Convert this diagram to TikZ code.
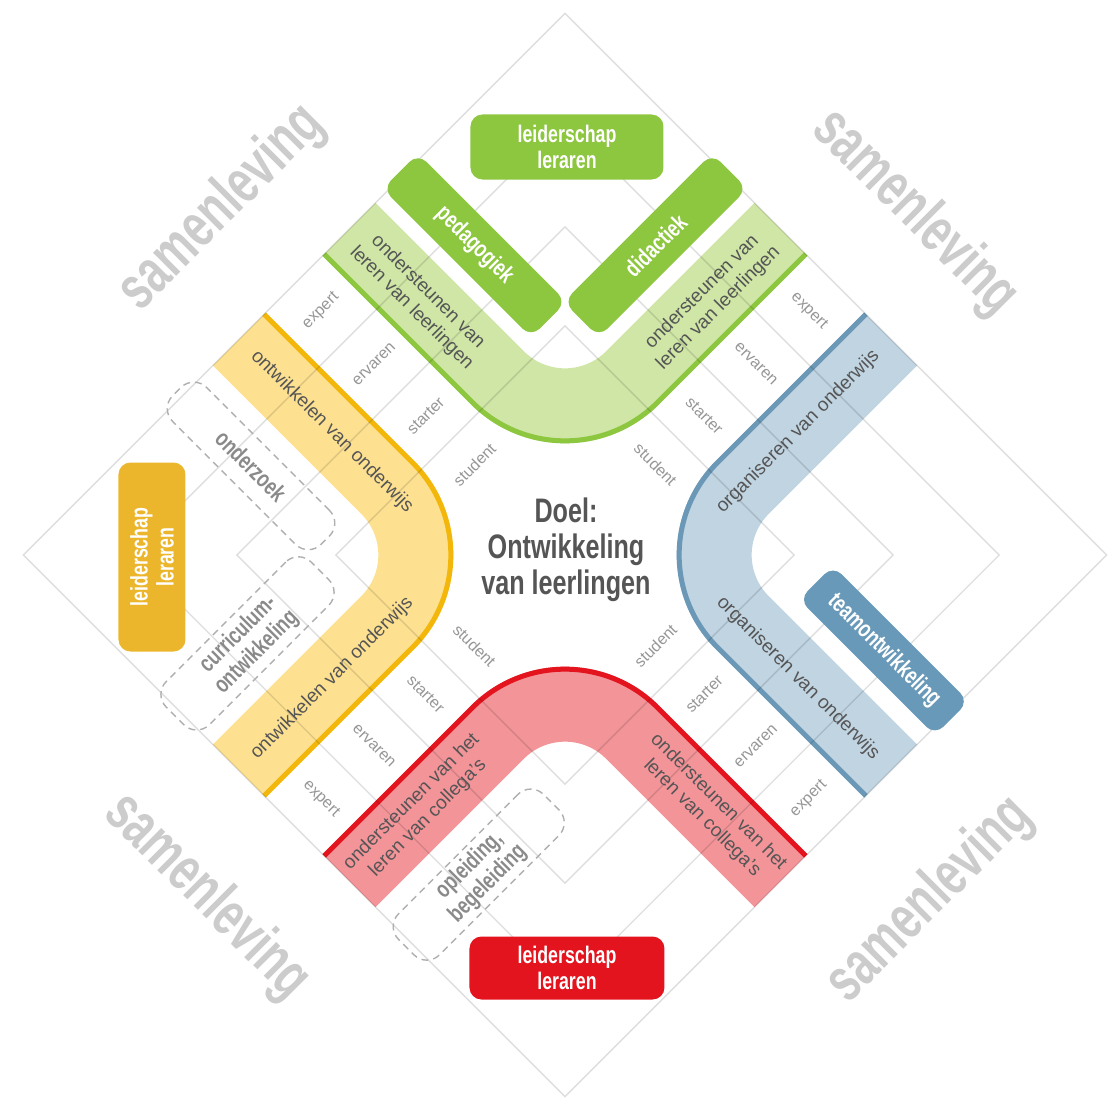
\documentclass[tikz,border=0pt]{standalone}
\usepackage{fontspec}
\setmainfont{Liberation Sans}
\newfontfamily\condfont[FakeStretch=0.74]{Liberation Sans}
\newfontfamily\socfont[FakeStretch=0.7]{Liberation Sans}
\usepackage{tikz}

\definecolor{bandG}{RGB}{207, 230, 166}
\definecolor{edgeG}{RGB}{141, 198, 63}
\definecolor{bandY}{RGB}{253, 225, 145}
\definecolor{edgeY}{RGB}{243, 183, 12}
\definecolor{bandB}{RGB}{192, 212, 226}
\definecolor{edgeB}{RGB}{106, 152, 182}
\definecolor{bandR}{RGB}{243, 148, 153}
\definecolor{edgeR}{RGB}{227, 20, 30}
\definecolor{colGreen}{RGB}{141, 198, 63}
\definecolor{colYellow}{RGB}{236, 182, 44}
\definecolor{colBlue}{RGB}{104, 153, 184}
\definecolor{colRed}{RGB}{227, 20, 30}
\definecolor{colText}{RGB}{85, 85, 85}
\definecolor{colLevel}{RGB}{150, 150, 150}
\definecolor{colDash}{RGB}{175, 175, 175}
\definecolor{colDashText}{RGB}{138, 138, 138}
\definecolor{colSociety}{RGB}{204, 204, 204}

\begin{document}
\begin{tikzpicture}[x=1pt, y=1pt,
    gridline/.style={draw=black, draw opacity=0.13, line width=1.3pt},
    bandtext/.style={text=colText, align=center, font=\fontsize{19}{23}\selectfont},
    level/.style={text=colLevel, font=\fontsize{16}{18}\selectfont},
    solidbox/.style={rounded corners=12pt, text=white, align=center, inner sep=0pt,
        font=\condfont\bfseries\fontsize{24}{26}\selectfont},
    dashbox/.style={draw=colDash, dash pattern=on 7pt off 5pt, line width=1.4pt,
        rounded corners=18pt, text=colDashText, align=center, inner sep=0pt,
        font=\condfont\bfseries\fontsize{24}{26}\selectfont},
    society/.style={text=colSociety, font=\socfont\bfseries\fontsize{62}{62}\selectfont}]

    \useasboundingbox (-565,-549) rectangle (549,555);

    % samenleving in de hoeken
    \node[society, rotate=45]  (socNW) at (-343, 347) {samenleving};
    \node[society, rotate=-45] (socNE) at (350, 342) {samenleving};
    \node[society, rotate=-45] (socSW) at (-358, -342) {samenleving};
    \node[society, rotate=45]  (socSE) at (365, -345) {samenleving};

    \begin{scope}[rotate=45]
        % vier banden (L-vorm per kwadrant)
        \foreach \sa/\sb/\fc/\ec in {1/1/bandG/edgeG, 1/-1/bandB/edgeB, -1/-1/bandR/edgeR, -1/1/bandY/edgeY} {
            \begin{scope}[xscale=\sa, yscale=\sb]
                \draw[\fc, line width=75pt, rounded corners=95.5pt] (77.5,383) -- (77.5,77.5) -- (383,77.5);
                \draw[\ec, line width=5pt, rounded corners=130.5pt] (42.5,383) -- (42.5,42.5) -- (383,42.5);
            \end{scope}
        }

        % ruitjes (niveaus + buitenrand)
        \foreach \r in {162, 232, 307, 383}
            \draw[gridline] (-\r,-\r) rectangle (\r,\r);

        % niveaus in de vier stroken
        \foreach \t/\lv in {128/student, 197/starter, 270/ervaren, 345/expert} {
            \node[level, rotate=45]  (lvNW-\lv) at (0,\t) {\lv};
            \node[level, rotate=-45] (lvNE-\lv) at (\t,0) {\lv};
            \node[level, rotate=45]  (lvSE-\lv) at (0,-\t) {\lv};
            \node[level, rotate=-45] (lvSW-\lv) at (-\t,0) {\lv};
        }

        % teksten in de banden
        \node[bandtext, rotate=-45] (gL) at (77.5,283) {ondersteunen van\\leren van leerlingen};
        \node[bandtext, rotate=45]  (gR) at (283,77.5) {ondersteunen van\\leren van leerlingen};
        \node[bandtext, rotate=-45] (yU) at (-77.5,252) {ontwikkelen van onderwijs};
        \node[bandtext, rotate=45]  (yD) at (-252,77.5) {ontwikkelen van onderwijs};
        \node[bandtext, rotate=45]  (bU) at (252,-77.5) {organiseren van onderwijs};
        \node[bandtext, rotate=-45] (bD) at (77.5,-252) {organiseren van onderwijs};
        \node[bandtext, rotate=45]  (rL) at (-283,-77.5) {ondersteunen van het\\leren van collega's};
        \node[bandtext, rotate=-45] (rR) at (-77.5,-283) {ondersteunen van het\\leren van collega's};

        % blokken binnen de banden
        \node[solidbox, fill=colGreen, minimum width=210pt, minimum height=50pt, rotate=-45] (ped) at (155,283) {pedagogiek};
        \node[solidbox, fill=colGreen, minimum width=210pt, minimum height=50pt, rotate=45] (did) at (283,155) {didactiek};
        \node[solidbox, fill=colBlue, minimum width=192pt, minimum height=48pt, rotate=-45] (team) at (158,-293) {teamontwikkeling};
        \node[dashbox, minimum width=210pt, minimum height=48pt, rotate=-45] (onderzoek) at (-159,285) {onderzoek};
        \node[dashbox, minimum width=205pt, minimum height=61pt, rotate=45] (curric) at (-287,162) {curriculum-\\ontwikkeling};
        \node[dashbox, minimum width=205pt, minimum height=58pt, rotate=45] (opleiding) at (-287,-165) {opleiding,\\begeleiding};
    \end{scope}

    % leiderschap leraren
    \node[solidbox, fill=colGreen, minimum width=193pt, minimum height=65pt] (leidG) at (2,408) {leiderschap\\leraren};
    \node[solidbox, fill=colRed, minimum width=195pt, minimum height=63pt] (leidR) at (2,-413) {leiderschap\\leraren};
    \node[solidbox, fill=colYellow, minimum width=189pt, minimum height=67pt, rotate=90] (leidY) at (-413,-2) {leiderschap\\leraren};

    % doel in het midden
    \node[text=colText, align=center, font=\condfont\bfseries\fontsize{34}{36}\selectfont] (doel) at (1,5) {Doel:\\Ontwikkeling\\van leerlingen};
\end{tikzpicture}
\end{document}
